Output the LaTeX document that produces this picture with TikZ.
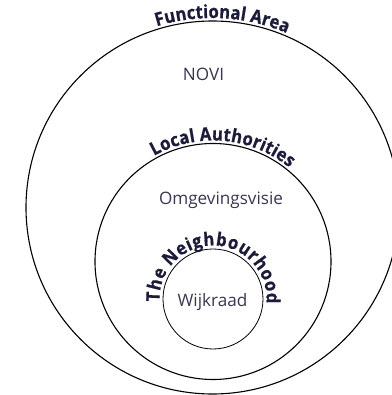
\documentclass[tikz,border=0pt]{standalone}
\usepackage{fontspec}
\setmainfont{Open Sans}
\newfontfamily\arcfont{Open Sans}[FakeStretch=0.9, BoldFeatures={FakeBold=0.8}]
\usetikzlibrary{decorations.text}
\definecolor{labelnavy}{RGB}{28,28,58}
\definecolor{textnavy}{RGB}{55,55,80}
\begin{document}
\begin{tikzpicture}[x=1bp,y=1bp,
  ring/.style={draw=black, circle, inner sep=0pt, outer sep=0pt, line width=1.1bp},
  plain/.style={font=\fontsize{17.2}{20}\selectfont, text=textnavy, anchor=base}]
\useasboundingbox (0,0) rectangle (392,395);
\node[ring, minimum size=373bp] (outer) at (212.5,187.5) {};
\node[ring, minimum size=236bp] (middle) at (213,133.5) {};
\node[ring, minimum size=100bp, line width=0.8bp] (inner) at (213,96) {};
\path[decorate, decoration={text along path, text align=center, raise=3bp,
  text={|\arcfont\fontsize{18.5}{20}\selectfont\bfseries\color{labelnavy}|Functional Area}}]
  (outer.130) arc[start angle=130, end angle=44, radius=186.5bp];
\path[decorate, decoration={text along path, text align=center, raise=3bp,
  text={|\arcfont\fontsize{18.5}{20}\selectfont\bfseries\color{labelnavy}|Local Authorities}}]
  (middle.150) arc[start angle=150, end angle=20, radius=118bp];
\path[decorate, decoration={text along path, text align=center, raise=3.5bp,
  text={|\arcfont\fontsize{18.5}{20}\selectfont\bfseries\color{labelnavy}|The Neighbourhood}}]
  (inner.259) arc[start angle=259, end angle=-81, radius=50bp];
\node[plain] (novi) at (203.5,315) {NOVI};
\node[plain] (omg) at (221,191) {Omgevingsvisie};
\node[plain] (wijk) at (212.5,89) {Wijkraad};
\end{tikzpicture}
\end{document}
